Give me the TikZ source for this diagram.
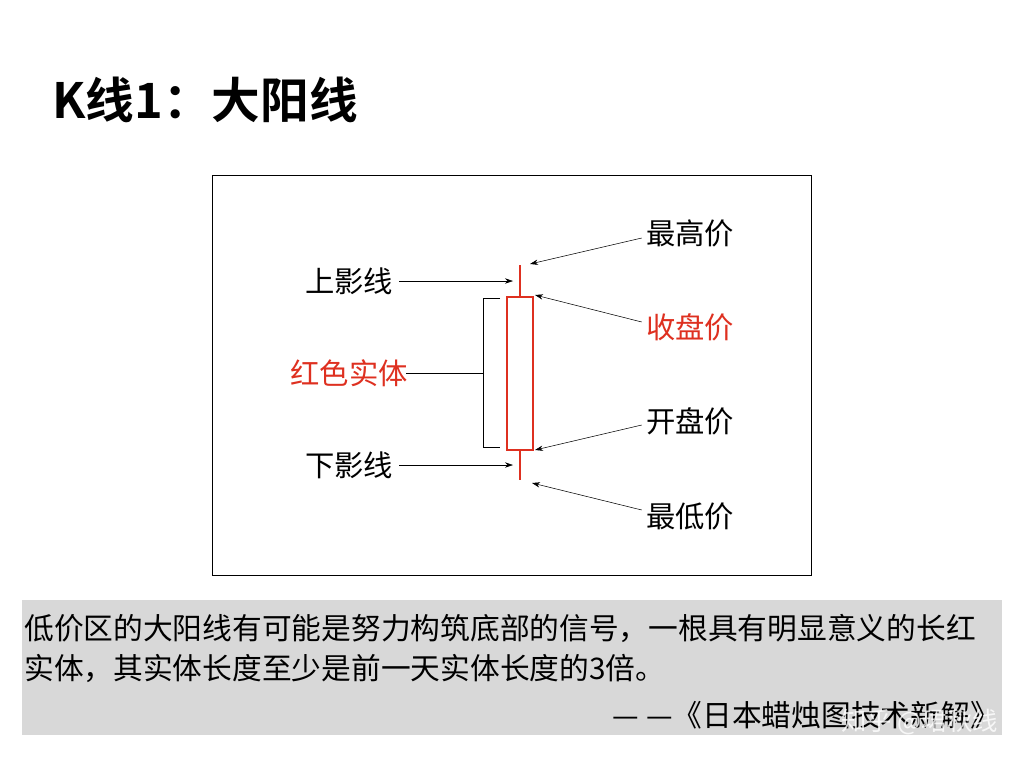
\documentclass[tikz,border=0pt]{standalone}
\usepackage{fontspec}
\usetikzlibrary{arrows.meta}
\setmainfont{Noto Sans CJK SC}
\newfontfamily\cjkb{Noto Sans CJK SC Bold}
\definecolor{kred}{RGB}{222,48,32}
\definecolor{gbox}{RGB}{216,216,216}
\begin{document}
\begin{tikzpicture}[x=0.75pt,y=-0.75pt,
  lab/.style={font=\fontsize{22}{24}\selectfont,inner sep=0pt},
  body/.style={font=\fontsize{22.3}{24}\selectfont,inner sep=0pt,anchor=west},
  arr/.style={-{Stealth[length=6pt,width=4pt]},thin}]
\useasboundingbox (0,0) rectangle (1024,768);
\node[anchor=west,inner sep=0pt,font=\cjkb\fontsize{36.5}{38}\selectfont] (title) at (52,100) {K线1：大阳线};
\draw[thin] (212,175) rectangle (811,575);
% candle
\draw[kred,line width=1.3pt] (520,265) -- (520,297);
\draw[kred,line width=1.3pt] (520,450) -- (520,480);
\draw[kred,line width=1.3pt] (507,297) rectangle (533,450);
\coordinate (hi) at (530,264);
\coordinate (cl) at (535,295);
\coordinate (op) at (535,450);
\coordinate (lo) at (532,483);
\coordinate (uw) at (513,281);
\coordinate (lw) at (513,465);
\coordinate (br) at (483,373);
% bracket
\draw[thin] (500,298) -- (483,298) -- (483,447) -- (500,447);
\node[lab] (n1) at (690,233) {最高价};
\node[lab,text=kred] (n2) at (690,327) {收盘价};
\node[lab] (n3) at (690,421) {开盘价};
\node[lab] (n4) at (690,516) {最低价};
\node[lab] (n5) at (349,281) {上影线};
\node[lab] (n6) at (349,465) {下影线};
\node[lab,text=kred] (n7) at (349,373) {红色实体};
\draw[arr] (n1.west)++(-4,5) -- (hi);
\draw[arr] (n2.west)++(-4,-5) -- (cl);
\draw[arr] (n3.west)++(-4,4) -- (op);
\draw[arr] (n4.west)++(-4,-6) -- (lo);
\draw[arr] (n5.east)++(6,0) -- (uw);
\draw[arr] (n6.east)++(6,0) -- (lw);
\draw[thin] (n7.east)++(-2,0) -- (br);
% grey box
\fill[gbox] (22,600) rectangle (1002,735);
\node[body] (t1) at (24,628) {低价区的大阳线有可能是努力构筑底部的信号，一根具有明显意义的长红};
\node[body] (t2) at (24,668) {实体，其实体长度至少是前一天实体长度的3倍。};
\node[body,anchor=east] (t3) at (1000,715) {— —《日本蜡烛图技术新解》};
\node[anchor=east,inner sep=0pt,text=white,opacity=0.8,font=\fontsize{19}{20}\selectfont] (wm) at (998,722) {知乎 @珺秋线};
\end{tikzpicture}
\end{document}
